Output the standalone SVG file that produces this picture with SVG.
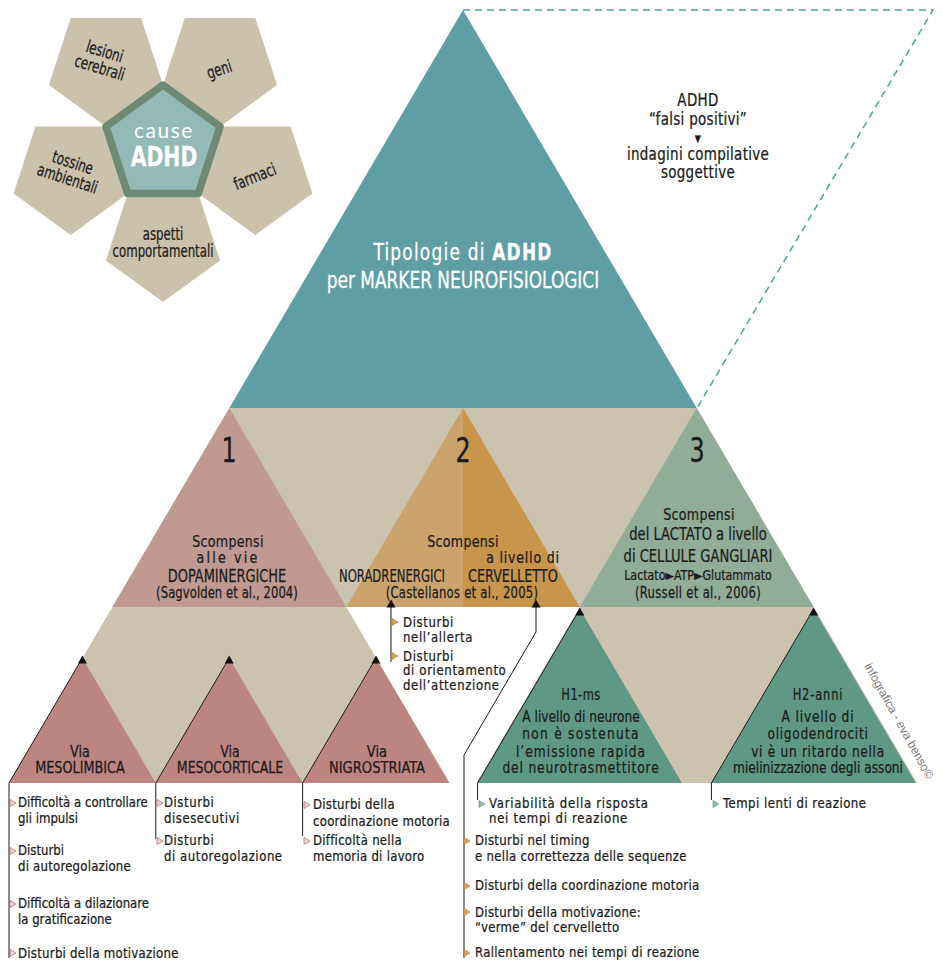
<svg xmlns="http://www.w3.org/2000/svg" width="943" height="969" viewBox="0 0 943 969">
<style>
text{font-family:"DejaVu Sans Condensed","DejaVu Sans",sans-serif;font-stretch:condensed;fill:#1b1b1b;stroke:#1b1b1b;stroke-width:0.25px}
.m{text-anchor:middle}
.e{text-anchor:end}
.li{font-size:14.5px}
.pt{font-size:17px}
.w{fill:#fff;stroke:#fff}
.pent{fill:#cbc2ab}
.conn{fill:none;stroke:#1b1b1b;stroke-width:1}
.bp{fill:#efd3d1;stroke:#a77a78;stroke-width:0.8}
.bg{fill:#d6a55a;stroke:#a9783a;stroke-width:0.6}
.bgr{fill:#8fc0aa;stroke:#5f8f7b;stroke-width:0.6}
.sc{font-size:16.5px;letter-spacing:0.35px}
.cap{font-size:18px}
.via{font-size:16px}
.h{font-size:16px}
</style>
<defs>
<path id="tip" d="M0,-3.5 L4.5,4.5 L-4.5,4.5Z" fill="#111"/>
<path id="bul" d="M0,-3.5 L6,0 L0,3.5Z"/>
</defs>

<!-- causes cluster -->
<g id="cause-lesioni">
<polygon class="pent" points="141.2,17.9 163,85 105.9,126.5 48.9,85 70.7,17.9"/>
<text class="m pt" transform="translate(103,57) rotate(17) scale(.77,1)"><tspan x="0" y="0">lesioni</tspan><tspan x="0" y="17">cerebrali</tspan></text>
</g>
<g id="cause-geni">
<polygon class="pent" points="255.3,17.9 277.1,85 220.1,126.5 163,85 184.8,17.9"/>
<text class="m pt" transform="translate(221,75) rotate(-18) scale(.77,1)">geni</text>
</g>
<g id="cause-farmaci">
<polygon class="pent" points="290.6,126.5 312.4,193.5 255.3,235 198.3,193.5 220.1,126.5"/>
<text class="m pt" transform="translate(257,182) rotate(-22) scale(.77,1)">farmaci</text>
</g>
<g id="cause-aspetti">
<polygon class="pent" points="198.3,193.5 220.1,260.6 163,302.1 105.9,260.6 127.7,193.5"/>
<text class="m pt" transform="translate(163,0) scale(.77,1)"><tspan x="0" y="240">aspetti</tspan><tspan x="0" y="257">comportamentali</tspan></text>
</g>
<g id="cause-tossine">
<polygon class="pent" points="105.9,126.5 127.7,193.5 70.7,235 13.6,193.5 35.4,126.5"/>
<text class="m pt" transform="translate(71,168) rotate(18) scale(.77,1)"><tspan x="0" y="0">tossine</tspan><tspan x="0" y="17">ambientali</tspan></text>
</g>
<g id="cause-center">
<polygon points="163,85 220.1,126.5 198.3,193.5 127.7,193.5 105.9,126.5" fill="#93bab6" stroke="#6e8a75" stroke-width="7.5" stroke-linejoin="round"/>
<text class="m w" x="164" y="138" style="font-family:Lato,'Noto Sans',sans-serif;font-size:21px;letter-spacing:1.5px;font-stretch:normal;stroke-width:0">cause</text>
<text class="m w" transform="translate(164,166) scale(.87,1)" style="font-size:26px;font-weight:bold">ADHD</text>
</g>

<!-- big pyramid -->
<g id="pyramid-top">
<polygon points="463,10 229.3,408 696.7,408" fill="#609ea6"/>
<text class="m w" transform="translate(463,0) scale(.82,1)" style="font-size:23px"><tspan x="0" y="260" style="letter-spacing:1.5px">Tipologie di <tspan style="font-weight:bold">ADHD</tspan></tspan><tspan x="0" y="288">per MARKER NEUROFISIOLOGICI</tspan></text>
</g>
<g id="false-positives">
<path d="M463,10 H933 L697,408" fill="none" stroke="#4aa39a" stroke-width="1.5" stroke-dasharray="7,5"/>
<text class="m" transform="translate(698,0) scale(.88,1)" style="font-size:17px;letter-spacing:0.35px"><tspan x="0" y="106">ADHD</tspan><tspan x="0" y="125">“falsi positivi”</tspan><tspan x="0" y="142" style="font-size:10px">▼</tspan><tspan x="0" y="160">indagini compilative</tspan><tspan x="0" y="178">soggettive</tspan></text>
</g>

<g id="row2-bg">
<polygon points="229.3,408 696.7,408 813.6,607 112.4,607" fill="#cbc3ad"/>
</g>
<g id="type1">
<polygon points="229.3,408 112.4,607 346.2,607" fill="#c09a91"/>
<text class="m" transform="translate(229,462) scale(.8,1)" style="font-size:33px">1</text>
<text class="m sc" transform="translate(228,0) scale(.85,1)"><tspan x="0" y="547">Scompensi</tspan><tspan x="0" y="563" style="letter-spacing:2.6px">alle vie</tspan></text>
<text class="m cap" transform="translate(227,582) scale(.8,1)">DOPAMINERGICHE</text>
<text class="m" transform="translate(227,598) scale(.86,1)" style="font-size:15px;letter-spacing:0.1px">(Sagvolden et al., 2004)</text>
</g>
<g id="type2">
<polygon points="463,408 346.2,607 463,607" fill="#cba46d"/>
<polygon points="463,408 463,607 579.8,607" fill="#c9954b"/>
<text class="m" transform="translate(463,462) scale(.8,1)" style="font-size:33px">2</text>
<text class="m sc" transform="translate(463,547) scale(.85,1)">Scompensi</text>
<text class="m sc" transform="translate(523,563) scale(.85,1)" style="letter-spacing:0.9px">a livello di</text>
<text class="e cap" transform="translate(445,582) scale(.72,1)">NORADRENERGICI</text>
<text class="cap" transform="translate(468,582) scale(.79,1)">CERVELLETTO</text>
<text class="m" transform="translate(462,598) scale(.86,1)" style="font-size:15px;letter-spacing:0.3px">(Castellanos et al., 2005)</text>
</g>
<g id="type3">
<polygon points="696.7,408 579.8,607 813.6,607" fill="#8fad98"/>
<text class="m" transform="translate(697,462) scale(.8,1)" style="font-size:33px">3</text>
<text class="m sc" transform="translate(699,520) scale(.85,1)">Scompensi</text>
<text class="m cap" transform="translate(698,0) scale(.81,1)"><tspan x="0" y="540">del LACTATO a livello</tspan><tspan x="0" y="562">di CELLULE GANGLIARI</tspan></text>
<text class="m" transform="translate(698,580) scale(.88,1)" style="font-size:14px">Lactato►ATP►Glutammato</text>
<text class="m" transform="translate(698,598) scale(.86,1)" style="font-size:15px;letter-spacing:0.35px">(Russell et al., 2006)</text>
</g>

<g id="row3-bg">
<polygon points="112.4,607 346.2,607 449.6,783 9,783" fill="#cbc3ad"/>
<polygon points="579.8,607 813.6,607 917,783 476.4,783" fill="#cbc3ad"/>
</g>
<g id="via-mesolimbica">
<polygon points="82.4,658 9,783 155.8,783" fill="#bd8580"/>
<text class="m via" transform="translate(80,0) scale(.89,1)"><tspan x="0" y="757">Via</tspan><tspan x="0" y="773">MESOLIMBICA</tspan></text>
</g>
<g id="via-mesocorticale">
<polygon points="229.2,658 155.8,783 302.6,783" fill="#bd8580"/>
<text class="m via" transform="translate(230,0) scale(.87,1)"><tspan x="0" y="757">Via</tspan><tspan x="0" y="773">MESOCORTICALE</tspan></text>
</g>
<g id="via-nigrostriata">
<polygon points="376,658 302.6,783 449.4,783" fill="#bd8580"/>
<text class="m via" transform="translate(377,0) scale(.91,1)"><tspan x="0" y="757">Via</tspan><tspan x="0" y="773">NIGROSTRIATA</tspan></text>
</g>
<g id="h1">
<polygon points="579.8,609 477.6,783 682,783" fill="#5f9985"/>
<text class="m h" transform="translate(581,0) scale(.85,1)"><tspan x="0" y="700" style="font-size:15px;letter-spacing:0.5px">H1-ms</tspan><tspan x="0" y="722">A livello di neurone</tspan><tspan x="0" y="739" style="letter-spacing:1.5px">non è sostenuta</tspan><tspan x="0" y="757" style="letter-spacing:1.2px">l’emissione rapida</tspan><tspan x="0" y="773" style="letter-spacing:1px">del neurotrasmettitore</tspan></text>
</g>
<g id="h2">
<polygon points="813.6,609 711.4,783 915.8,783" fill="#5f9985"/>
<text class="m h" transform="translate(818,0) scale(.85,1)"><tspan x="0" y="700" style="font-size:15px;letter-spacing:1px">H2-anni</tspan><tspan x="0" y="722" style="letter-spacing:0.95px">A livello di</tspan><tspan x="0" y="739" style="letter-spacing:0.8px">oligodendrociti</tspan><tspan x="0" y="757" style="letter-spacing:0.8px">vi è un ritardo nella</tspan><tspan x="0" y="773">mielinizzazione degli assoni</tspan></text>
</g>

<text transform="translate(864,666) rotate(61)" style="font-family:'Liberation Sans',Arial,sans-serif;font-size:12px;fill:#7a7a7a;stroke-width:0;font-stretch:normal">infografica - eva benso©</text>

<!-- connectors -->
<g id="connectors">
<path class="conn" d="M9,958 V783 L82.4,658"/>
<path class="conn" d="M155.8,839 V783 L229.2,658"/>
<path class="conn" d="M302.6,836 V783 L376,658"/>
<path class="conn" d="M391,662 V606"/>
<path class="conn" d="M464,958 V755 L536,632 V606"/>
<path class="conn" d="M477.6,800 V783 L579.8,609"/>
<path class="conn" d="M711.4,800 V783 L813.6,609"/>
<use href="#tip" x="82.4" y="659"/>
<use href="#tip" x="229.2" y="659"/>
<use href="#tip" x="376" y="659"/>
<use href="#tip" x="391" y="603"/>
<use href="#tip" x="536" y="603"/>
<use href="#tip" x="579.8" y="611"/>
<use href="#tip" x="813.6" y="611"/>
</g>

<!-- lists -->
<g id="list-mesolimbica">
<use href="#bul" class="bp" x="10" y="803"/>
<use href="#bul" class="bp" x="10" y="851"/>
<use href="#bul" class="bp" x="10" y="904"/>
<use href="#bul" class="bp" x="10" y="953"/>
<text class="li" transform="translate(18,0) scale(.9,1)"><tspan x="0" y="807">Difficoltà a controllare</tspan><tspan x="0" y="823">gli impulsi</tspan><tspan x="0" y="855">Disturbi</tspan><tspan x="0" y="871" style="letter-spacing:0.25px">di autoregolazione</tspan><tspan x="0" y="908">Difficoltà a dilazionare</tspan><tspan x="0" y="924">la gratificazione</tspan><tspan x="0" y="958" style="letter-spacing:0.3px">Disturbi della motivazione</tspan></text>
</g>
<g id="list-mesocorticale">
<use href="#bul" class="bp" x="157" y="803"/>
<use href="#bul" class="bp" x="157" y="841"/>
<text class="li" transform="translate(164,0) scale(.9,1)" style="letter-spacing:0.6px"><tspan x="0" y="807">Disturbi</tspan><tspan x="0" y="823">disesecutivi</tspan><tspan x="0" y="845">Disturbi</tspan><tspan x="0" y="861">di autoregolazione</tspan></text>
</g>
<g id="list-nigrostriata">
<use href="#bul" class="bp" x="304" y="805"/>
<use href="#bul" class="bp" x="304" y="841"/>
<text class="li" transform="translate(313,0) scale(.9,1)" style="letter-spacing:0.3px"><tspan x="0" y="809">Disturbi della</tspan><tspan x="0" y="826">coordinazione motoria</tspan><tspan x="0" y="845">Difficoltà nella</tspan><tspan x="0" y="861">memoria di lavoro</tspan></text>
</g>
<g id="list-noradrenergici">
<use href="#bul" class="bg" x="392" y="622"/>
<use href="#bul" class="bg" x="392" y="656"/>
<text class="li" transform="translate(403,0) scale(.9,1)" style="letter-spacing:0.7px"><tspan x="0" y="627">Disturbi</tspan><tspan x="0" y="642">nell’allerta</tspan><tspan x="0" y="661">Disturbi</tspan><tspan x="0" y="675">di orientamento</tspan><tspan x="0" y="690">dell’attenzione</tspan></text>
</g>
<g id="list-cervelletto">
<use href="#bul" class="bg" x="464" y="841"/>
<use href="#bul" class="bg" x="464" y="886"/>
<use href="#bul" class="bg" x="464" y="912"/>
<use href="#bul" class="bg" x="464" y="953"/>
<text class="li" transform="translate(475,0) scale(.9,1)" style="letter-spacing:0.35px"><tspan x="0" y="845">Disturbi nel timing</tspan><tspan x="0" y="861">e nella correttezza delle sequenze</tspan><tspan x="0" y="890">Disturbi della coordinazione motoria</tspan><tspan x="0" y="917">Disturbi della motivazione:</tspan><tspan x="0" y="932">“verme” del cervelletto</tspan><tspan x="0" y="957">Rallentamento nei tempi di reazione</tspan></text>
</g>
<g id="list-h1">
<use href="#bul" class="bgr" x="479" y="804"/>
<text class="li" transform="translate(489,0) scale(.9,1)" style="letter-spacing:0.8px"><tspan x="0" y="808">Variabilità della risposta</tspan><tspan x="0" y="823">nei tempi di reazione</tspan></text>
</g>
<g id="list-h2">
<use href="#bul" class="bgr" x="713" y="804"/>
<text class="li" transform="translate(723,808) scale(.9,1)" style="letter-spacing:0.55px">Tempi lenti di reazione</text>
</g>
</svg>
